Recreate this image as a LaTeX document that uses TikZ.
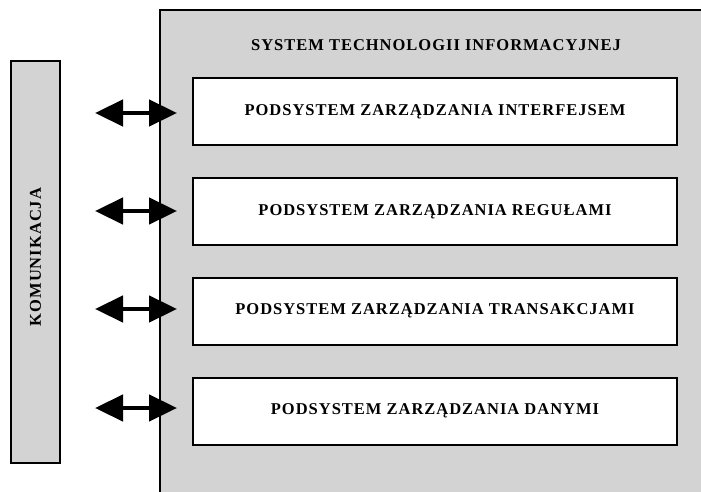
\documentclass[tikz,border=0pt]{standalone}
\usepackage{fontspec}
\usetikzlibrary{arrows.meta}
\newfontfamily\diafont[LetterSpace=6]{Liberation Serif}
\definecolor{panelgray}{RGB}{211,211,211}
\begin{document}
\begin{tikzpicture}[x=1pt,y=-1pt,
  every node/.style={font=\diafont\bfseries\fontsize{16.5}{19}\selectfont, inner sep=0pt},
  subbox/.style={draw=black, line width=2pt, fill=white,
    minimum width=484pt, minimum height=67pt},
  sidebar/.style={draw=black, line width=2pt, fill=panelgray,
    minimum width=49pt, minimum height=402pt},
  linkarrow/.style={line width=4.5pt, black,
    {Triangle[length=28pt,width=26pt]}-{Triangle[length=28pt,width=26pt]},
    shorten <=34pt, shorten >=15pt}]
\useasboundingbox (0,0) rectangle (701,492);

% outer panel of the information technology system
\fill[panelgray] (160,10) rectangle (705,497);
\draw[line width=1.5pt] (160,497) -- (160,10) -- (705,10);
\node (title) at (436,45) {SYSTEM TECHNOLOGII INFORMACYJNEJ};

% communication bar
\node[sidebar] (kom) at (35.5,262) {};
\node[rotate=90] (komtxt) at (35.5,257) {KOMUNIKACJA};

% subsystems
\node[subbox] (s1) at (435,111.5) {PODSYSTEM ZARZĄDZANIA INTERFEJSEM};
\node[subbox] (s2) at (435,211.5) {PODSYSTEM ZARZĄDZANIA REGUŁAMI};
\node[subbox] (s3) at (435,311) {PODSYSTEM ZARZĄDZANIA TRANSAKCJAMI};
\node[subbox] (s4) at (435,411) {PODSYSTEM ZARZĄDZANIA DANYMI};

% bidirectional links
\foreach \s/\dy in {s1/-1.5, s2/0.5, s3/2, s4/3} {
  \draw[linkarrow] ([yshift=\dy pt]kom.east |- \s.west) -- ([yshift=\dy pt]\s.west);
}
\end{tikzpicture}
\end{document}
